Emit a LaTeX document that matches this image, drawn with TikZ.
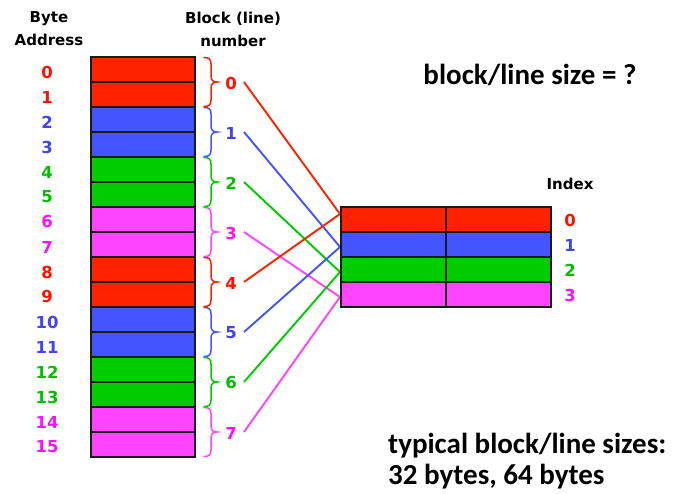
\documentclass[tikz,border=0pt]{standalone}
\usepackage{fontspec}
\setmainfont{DejaVu Sans}
\newfontfamily\calib{Carlito}
\usetikzlibrary{decorations.pathreplacing}

\definecolor{cred}{HTML}{FF2200}
\definecolor{cblue}{HTML}{4455FF}
\definecolor{cgreen}{HTML}{00CC00}
\definecolor{cmag}{HTML}{FF44FF}
\definecolor{tred}{HTML}{FF1100}
\definecolor{tblue}{HTML}{4444EE}
\definecolor{tgreen}{HTML}{00C000}
\definecolor{tmag}{HTML}{FF11FF}

\tikzset{
  cell/.style={draw=black!90, line width=2pt, minimum width=104pt, minimum height=25pt, inner sep=0pt, outer sep=0pt},
  ccell/.style={draw=black!90, line width=2pt, minimum width=105pt, minimum height=25pt, inner sep=0pt, outer sep=0pt},
  lbl/.style={font=\bfseries\fontsize{16.5}{16.5}\selectfont, inner sep=0pt},
  hdr/.style={font=\bfseries\fontsize{15}{23}\selectfont, align=center, inner sep=0pt},
  big/.style={font=\calib\bfseries\fontsize{29}{31}\selectfont, inner sep=0pt},
  link/.style={line width=1.9pt},
  blockbrace/.style={line width=1.5pt, line cap=round},
}

\begin{document}
\begin{tikzpicture}[x=1pt, y=-1pt]
\useasboundingbox (0,0) rectangle (673,494);
\fill[white] (0,0) rectangle (673,494);

% headers
\node[hdr] (hbyte) at (49,29) {Byte\\Address};
\node[hdr] (hblock) at (233,29) {Block (line)\\number};

% memory column: 16 bytes, two per block
\foreach \i in {0,...,15} {
  \pgfmathtruncatemacro{\blk}{\i/2}
  \pgfmathtruncatemacro{\ci}{mod(\blk,4)}
  \ifcase\ci \def\fc{cred}\def\tc{tred}\or \def\fc{cblue}\def\tc{tblue}\or \def\fc{cgreen}\def\tc{tgreen}\or \def\fc{cmag}\def\tc{tmag}\fi
  \node[cell, fill=\fc] (m\i) at (143, 69.5+25*\i) {};
  \node[lbl, text=\tc] (a\i) at (47, 72+25*\i) {\i};
}

% block braces, numbers and links to the cache
\foreach \k/\ty in {0/214,1/247,2/272,3/297,4/214,5/247,6/272,7/297} {
  \pgfmathtruncatemacro{\ci}{mod(\k,4)}
  \ifcase\ci \def\fc{cred}\def\tc{tred}\or \def\fc{cblue}\def\tc{tblue}\or \def\fc{cgreen}\def\tc{tgreen}\or \def\fc{cmag}\def\tc{tmag}\fi
  \begin{scope}[shift={(0,50*\k)}]
    % curly brace spanning the two bytes of the block
    \draw[blockbrace, draw=\fc]
      (204,57.5) .. controls (209,57.5) and (211,59) .. (211,64)
      -- (211,76) .. controls (211,80) and (213,82) .. (217,82)
      .. controls (213,82) and (211,84) .. (211,88)
      -- (211,100) .. controls (211,105) and (209,106.5) .. (204,106.5);
  \end{scope}
  \node[lbl, text=\tc] (b\k) at (231, 83+50*\k) {\k};
  \coordinate (s\k) at (244, 82+50*\k);
  \coordinate (t\k) at (340, \ty);
  \draw[link, draw=\fc] (s\k) -- (t\k);
}

% cache: four sets, two halves each
\foreach \j/\fc/\tc in {0/cred/tred,1/cblue/tblue,2/cgreen/tgreen,3/cmag/tmag} {
  \node[ccell, fill=\fc] (cl\j) at (393, 219.5+25*\j) {};
  \node[ccell, fill=\fc] (cr\j) at (498, 219.5+25*\j) {};
  \node[lbl, text=\tc] (i\j) at (570, 220+25*\j) {\j};
}
\node[hdr] (hindex) at (570,184) {Index};

% annotations
\node[big] (q) at (530,75) {block/line size = ?};
\node[big, anchor=west] (typ1) at (388,446) {typical block/line sizes:};
\node[big, anchor=west] (typ2) at (388,477) {32 bytes, 64 bytes};
\end{tikzpicture}
\end{document}
